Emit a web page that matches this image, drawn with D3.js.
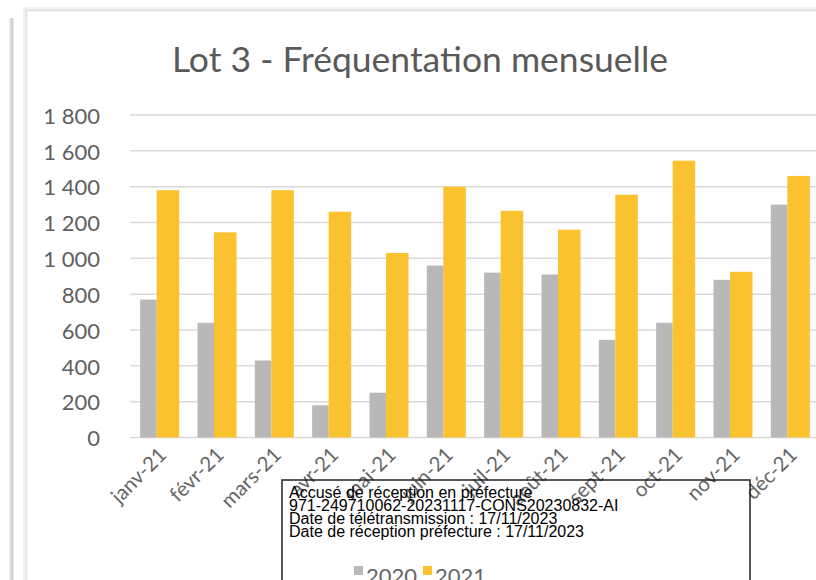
<!DOCTYPE html>
<html><head><meta charset="utf-8">
<script src="https://cdn.jsdelivr.net/npm/d3@7"></script>
<style>html,body{margin:0;padding:0;background:#fff;overflow:hidden}</style>
</head><body>
<script>
const months = ["janv-21","févr-21","mars-21","avr-21","mai-21","juin-21","juil-21","août-21","sept-21","oct-21","nov-21","déc-21"];
const values2020 = [770, 640, 430, 180, 250, 960, 920, 910, 545, 640, 880, 1300];
const values2021 = [1380, 1145, 1380, 1260, 1030, 1400, 1265, 1160, 1355, 1545, 925, 1460];
const seriesNames = ["2020", "2021"];
const yTicks = [0, 200, 400, 600, 800, 1000, 1200, 1400, 1600, 1800];
const title = "Lot 3 - Fréquentation mensuelle";
const stampLines = ["Accusé de réception en préfecture", "971-249710062-20231117-CONS20230832-AI", "Date de télétransmission : 17/11/2023", "Date de réception préfecture : 17/11/2023"];

const W = 816, H = 580;
const colors = {"2020": "#b8b8b8", "2021": "#fbc22f"};
const svg = d3.select("body").append("svg").attr("width", W).attr("height", H);

// page frame lines
svg.append("rect").attr("x", 9).attr("y", 18).attr("width", 5).attr("height", H).attr("fill", "#ececec");
svg.append("rect").attr("x", 10.5).attr("y", 18).attr("width", 2.5).attr("height", H).attr("fill", "#d2d2d2");
svg.append("rect").attr("x", 25).attr("y", 9).attr("width", W).attr("height", H).attr("fill", "none").attr("stroke", "#f0f0f0").attr("stroke-width", 4);
svg.append("rect").attr("x", 26.5).attr("y", 10.5).attr("width", W).attr("height", H).attr("fill", "none").attr("stroke", "#dedede").attr("stroke-width", 1.5);

const x = d3.scaleBand().domain(months).range([131, 819]).padding(0);
const y = d3.scaleLinear().domain([0, 1800]).range([437.5, 115]);
const fmt = v => d3.format(",")(v).replace(",", " ");

// title
svg.append("text").attr("x", 420).attr("y", 72).attr("text-anchor", "middle")
  .attr("font-family", "Lato, 'Open Sans', sans-serif").attr("font-size", 35.5).attr("fill", "#595959").text(title);

// gridlines
svg.append("g").selectAll("line").data(yTicks).join("line")
  .attr("x1", 130).attr("x2", W).attr("y1", d => y(d)).attr("y2", d => y(d))
  .attr("stroke", "#d9d9d9").attr("stroke-width", 1.5);

// y labels
svg.append("g").selectAll("text").data(yTicks).join("text")
  .attr("x", 100).attr("y", d => y(d) + 1).attr("dy", "0.35em").attr("text-anchor", "end")
  .attr("font-family", "Lato, sans-serif").attr("font-size", 22).attr("fill", "#606060")
  .text(d => fmt(d));

// bars
const c = m => x(m) + x.bandwidth() / 2;
svg.append("g").selectAll("rect").data(months).join("rect")
  .attr("x", m => c(m) - 19.5).attr("width", 16.5)
  .attr("y", (m, i) => y(values2020[i])).attr("height", (m, i) => y(0) - y(values2020[i]))
  .attr("fill", colors["2020"]);
svg.append("g").selectAll("rect").data(months).join("rect")
  .attr("x", m => c(m) - 3).attr("width", 22.5)
  .attr("y", (m, i) => y(values2021[i])).attr("height", (m, i) => y(0) - y(values2021[i]))
  .attr("fill", colors["2021"]);

// x labels
svg.append("g").selectAll("text").data(months).join("text")
  .attr("transform", m => `translate(${c(m) + 3},${451}) rotate(-45)`)
  .attr("text-anchor", "end").attr("dy", "0.35em")
  .attr("font-family", "Lato, sans-serif").attr("font-size", 20.5).attr("fill", "#666666")
  .text(m => m);

// legend
const legX = [354, 423];
seriesNames.forEach((s, i) => {
  svg.append("rect").attr("x", legX[i]).attr("y", 566).attr("width", 9).attr("height", 9).attr("fill", colors[s]);
  svg.append("text").attr("x", legX[i] + 12).attr("y", 584)
    .attr("font-family", "Lato, sans-serif").attr("font-size", 22).attr("fill", "#666666").text(s);
});

// stamp overlay
svg.append("rect").attr("x", 282).attr("y", 480).attr("width", 468).attr("height", 140)
  .attr("fill", "none").attr("stroke", "#222").attr("stroke-width", 1.5);
svg.append("g").selectAll("text").data(stampLines).join("text")
  .attr("x", 289).attr("y", (d, i) => 498 + i * 13)
  .attr("font-family", "'Liberation Sans', Arial, sans-serif").attr("font-size", 16).attr("fill", "#000")
  .text(d => d);
</script>
</body></html>
